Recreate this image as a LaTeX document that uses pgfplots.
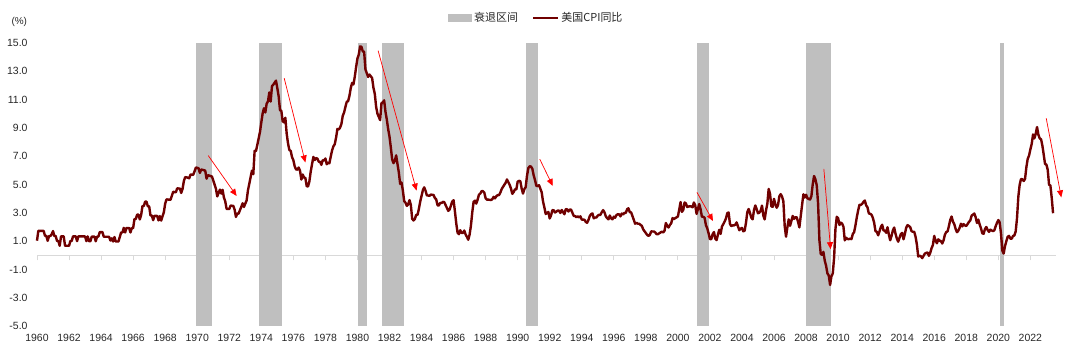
\documentclass[border=0pt]{standalone}
\usepackage{pgfplots}
\pgfplotsset{compat=1.18}
\usepackage{pgfplotstable}
\usepackage{fontspec}
\setmainfont{Liberation Sans}
\newfontfamily\cjk{Noto Sans CJK SC}
\usetikzlibrary{arrows.meta}
\definecolor{bandgray}{RGB}{191,191,191}
\definecolor{cpired}{RGB}{112,0,0}
\definecolor{zerogray}{RGB}{217,217,217}

% US CPI YoY, monthly from Jan 1960
\pgfplotstableread[row sep=\\, header=false]{
1.03\\1.73\\1.73\\1.72\\1.72\\1.72\\1.37\\1.37\\1.02\\1.36\\1.36\\1.48\\
1.71\\1.36\\1.36\\1.01\\1.01\\0.67\\1.34\\1.34\\1.34\\0.67\\0.67\\0.67\\
0.67\\1.01\\1.01\\1.34\\1.34\\1.34\\1.00\\1.34\\1.33\\1.33\\1.33\\1.33\\
1.33\\1.00\\1.33\\0.99\\0.99\\1.32\\1.32\\1.32\\0.99\\1.32\\1.32\\1.64\\
1.64\\1.64\\1.31\\1.31\\1.31\\1.31\\1.30\\1.04\\1.20\\0.97\\1.29\\0.97\\
0.97\\0.97\\1.29\\1.61\\1.61\\1.94\\1.61\\1.93\\1.93\\1.93\\1.61\\1.92\\
1.92\\2.56\\2.56\\2.87\\2.87\\2.53\\2.85\\3.48\\3.48\\3.79\\3.79\\3.46\\
3.46\\2.81\\2.81\\2.48\\2.79\\2.78\\2.78\\2.46\\2.77\\2.45\\2.75\\3.04\\
3.65\\3.95\\3.94\\3.93\\3.92\\4.20\\4.49\\4.46\\4.45\\4.73\\4.72\\4.72\\
4.40\\4.68\\5.25\\5.52\\5.51\\5.48\\5.44\\5.71\\5.70\\5.68\\5.93\\6.20\\
6.18\\6.15\\5.82\\6.06\\6.04\\6.01\\5.98\\5.41\\5.66\\5.63\\5.60\\5.57\\
5.29\\5.00\\4.71\\4.16\\4.40\\4.64\\4.36\\4.62\\4.08\\3.81\\3.28\\3.27\\
3.27\\3.51\\3.50\\3.49\\3.23\\2.71\\2.95\\2.94\\3.19\\3.42\\3.67\\3.41\\
3.65\\3.87\\4.59\\5.06\\5.53\\5.98\\5.73\\7.38\\7.36\\7.80\\8.25\\8.71\\
9.39\\10.02\\10.39\\10.09\\10.71\\10.88\\11.51\\10.86\\11.95\\12.06\\12.20\\12.34\\
11.80\\11.23\\10.25\\10.21\\9.47\\9.39\\9.72\\8.60\\7.91\\7.44\\7.38\\6.94\\
6.72\\6.29\\6.07\\6.05\\6.20\\5.97\\5.35\\5.71\\5.49\\5.46\\4.88\\4.86\\
5.22\\5.91\\6.44\\6.95\\6.73\\6.87\\6.83\\6.62\\6.60\\6.39\\6.72\\6.70\\
6.84\\6.43\\6.55\\6.50\\6.97\\7.41\\7.70\\7.84\\8.31\\8.93\\8.89\\9.02\\
9.28\\9.86\\10.09\\10.49\\10.85\\10.89\\11.26\\11.82\\12.18\\12.07\\12.61\\13.29\\
13.91\\14.18\\14.76\\14.73\\14.41\\14.38\\13.13\\12.87\\12.60\\12.77\\12.65\\12.52\\
11.83\\11.41\\10.49\\10.00\\9.78\\9.55\\10.76\\10.80\\10.95\\10.14\\9.59\\8.92\\
8.39\\7.62\\6.78\\6.51\\6.68\\7.06\\6.44\\5.85\\5.04\\5.14\\4.59\\3.83\\
3.71\\3.49\\3.60\\3.90\\3.55\\2.58\\2.46\\2.56\\2.86\\2.85\\3.27\\3.79\\
4.19\\4.60\\4.80\\4.56\\4.23\\4.22\\4.20\\4.29\\4.27\\4.26\\4.05\\3.95\\
3.53\\3.52\\3.70\\3.69\\3.77\\3.76\\3.55\\3.35\\3.14\\3.23\\3.51\\3.80\\
3.89\\3.11\\2.26\\1.59\\1.49\\1.77\\1.58\\1.57\\1.75\\1.47\\1.30\\1.10\\
1.46\\2.10\\3.03\\3.78\\3.86\\3.65\\3.93\\4.28\\4.36\\4.53\\4.53\\4.43\\
4.03\\3.93\\3.93\\3.92\\3.90\\3.96\\4.13\\4.02\\4.17\\4.25\\4.25\\4.42\\
4.67\\4.83\\4.98\\5.12\\5.36\\5.17\\4.98\\4.71\\4.34\\4.47\\4.66\\4.65\\
5.20\\5.26\\5.23\\4.71\\4.36\\4.67\\4.82\\5.62\\6.16\\6.29\\6.27\\6.11\\
5.65\\5.31\\4.90\\4.89\\4.95\\4.70\\4.45\\3.80\\3.39\\2.92\\2.99\\3.06\\
2.60\\2.82\\3.19\\3.18\\3.02\\3.09\\3.16\\3.15\\2.99\\3.20\\3.05\\2.90\\
3.26\\3.25\\3.09\\3.23\\3.22\\3.00\\2.78\\2.77\\2.69\\2.75\\2.68\\2.75\\
2.52\\2.52\\2.51\\2.36\\2.29\\2.49\\2.77\\2.90\\2.96\\2.61\\2.67\\2.67\\
2.80\\2.86\\2.85\\3.05\\3.19\\3.04\\2.76\\2.62\\2.54\\2.81\\2.61\\2.54\\
2.73\\2.65\\2.84\\2.90\\2.89\\2.75\\2.95\\2.88\\3.00\\2.99\\3.26\\3.32\\
3.04\\3.03\\2.76\\2.50\\2.23\\2.30\\2.23\\2.23\\2.15\\2.08\\1.83\\1.70\\
1.57\\1.44\\1.37\\1.44\\1.69\\1.68\\1.68\\1.62\\1.49\\1.49\\1.55\\1.61\\
1.67\\1.61\\1.73\\2.28\\2.09\\1.96\\2.14\\2.26\\2.63\\2.56\\2.62\\2.68\\
2.74\\3.22\\3.76\\3.07\\3.19\\3.73\\3.66\\3.41\\3.45\\3.45\\3.45\\3.39\\
3.73\\3.53\\2.92\\3.27\\3.62\\3.25\\2.72\\2.72\\2.65\\2.13\\1.90\\1.55\\
1.14\\1.14\\1.48\\1.64\\1.18\\1.07\\1.46\\1.80\\1.51\\2.03\\2.20\\2.38\\
2.60\\2.98\\3.02\\2.22\\2.06\\2.11\\2.11\\2.16\\2.32\\2.04\\1.77\\1.88\\
1.93\\1.69\\1.74\\2.29\\3.05\\3.27\\2.99\\2.65\\2.54\\3.19\\3.52\\3.26\\
2.97\\3.01\\3.15\\3.51\\2.80\\2.53\\3.17\\3.64\\4.69\\4.35\\3.46\\3.42\\
3.99\\3.60\\3.36\\3.55\\4.17\\4.32\\4.15\\3.82\\2.06\\1.31\\1.97\\2.54\\
2.08\\2.42\\2.78\\2.57\\2.69\\2.69\\2.36\\1.97\\2.76\\3.54\\4.31\\4.08\\
4.28\\4.03\\3.98\\3.94\\4.18\\5.02\\5.60\\5.37\\4.94\\3.66\\1.07\\0.09\\
0.03\\0.24\\-0.38\\-0.74\\-1.28\\-1.43\\-2.10\\-1.48\\-1.29\\-0.18\\1.84\\2.72\\
2.63\\2.14\\2.31\\2.24\\2.02\\1.05\\1.24\\1.15\\1.14\\1.17\\1.14\\1.50\\
1.63\\2.11\\2.68\\3.16\\3.57\\3.56\\3.63\\3.77\\3.87\\3.53\\3.39\\2.96\\
2.93\\2.87\\2.65\\2.30\\1.70\\1.66\\1.41\\1.69\\1.99\\2.16\\1.76\\1.74\\
1.59\\1.98\\1.47\\1.06\\1.36\\1.75\\1.96\\1.52\\1.18\\0.96\\1.24\\1.50\\
1.58\\1.13\\1.51\\1.95\\2.13\\2.07\\1.99\\1.70\\1.66\\1.66\\1.32\\0.76\\
-0.09\\-0.03\\-0.07\\-0.20\\-0.04\\0.12\\0.17\\0.20\\-0.04\\0.17\\0.50\\0.73\\
1.37\\1.02\\0.85\\1.13\\1.02\\1.01\\0.83\\1.06\\1.46\\1.64\\1.69\\2.07\\
2.50\\2.74\\2.38\\2.20\\1.87\\1.63\\1.73\\1.94\\2.23\\2.04\\2.20\\2.11\\
2.07\\2.21\\2.36\\2.46\\2.80\\2.87\\2.95\\2.70\\2.28\\2.52\\2.18\\1.91\\
1.55\\1.52\\1.86\\2.00\\1.79\\1.65\\1.81\\1.75\\1.71\\1.76\\2.05\\2.29\\
2.49\\2.33\\1.54\\0.33\\0.12\\0.65\\0.99\\1.31\\1.37\\1.18\\1.17\\1.36\\
1.40\\1.68\\2.62\\4.16\\4.99\\5.39\\5.37\\5.25\\5.39\\6.22\\6.81\\7.04\\
7.48\\7.87\\8.54\\8.26\\8.58\\9.06\\8.52\\8.26\\8.20\\7.75\\7.11\\6.45\\
6.41\\6.04\\4.98\\4.93\\4.05\\2.97\\
}\cpidata

\begin{document}
\begin{tikzpicture}
\pgfplotsset{common/.style={scale only axis, width=1019bp, height=283bp,
  xmin=1960, xmax=2023.6, ymin=-5, ymax=15, clip=false, scaled ticks=false}}
% zero line with ticks
\begin{axis}[common, axis x line=middle, axis y line=none,
  axis line style={-, draw=zerogray, line width=1.2bp},
  xtick={1960,1962,...,2022}, xticklabels={}, ytick=\empty,
  hide obscured x ticks=false,
  tick align=center, major tick length=5bp,
  xtick style={draw=zerogray, line width=1bp, yshift=-2.5bp}]
\end{axis}
\begin{axis}[common,
  axis line style={draw=none}, major tick length=0pt, tick style={draw=none},
  xtick={1960,1962,...,2022},
  xticklabels={1960,1962,1964,1966,1968,1970,1972,1974,1976,1978,1980,1982,1984,1986,1988,1990,1992,1994,1996,1998,2000,2002,2004,2006,2008,2010,2012,2014,2016,2018,2020,2022},
  ytick={-5,-3,...,15},
  yticklabels={-5.0,-3.0,-1.0,1.0,3.0,5.0,7.0,9.0,11.0,13.0,15.0},
  xticklabel style={yshift=-5bp},
  yticklabel style={xshift=-6bp},
  ticklabel style={font=\fontsize{10.5}{12}\selectfont, text=black!85},
  legend columns=2,
  legend style={at={(0.49,1)}, anchor=center, yshift=25bp, draw=none, fill=none,
    font=\fontsize{11}{13}\selectfont, text=black!85,
    /tikz/every even column/.append style={column sep=12bp}},
  legend cell align=left]
% recession bands
\addplot[fill=bandgray, draw=none,
  legend image code/.code={\fill[bandgray] (0bp,-4bp) rectangle (24bp,4bp);}]
  coordinates {(1969.92,-5)(1969.92,15)(1970.94,15)(1970.94,-5)};
\addlegendentry{{\cjk 衰退区间}}
\addplot[fill=bandgray, draw=none, forget plot] coordinates {(1973.85,-5)(1973.85,15)(1975.27,15)(1975.27,-5)};
\addplot[fill=bandgray, draw=none, forget plot] coordinates {(1980.03,-5)(1980.03,15)(1980.6,15)(1980.6,-5)};
\addplot[fill=bandgray, draw=none, forget plot] coordinates {(1981.54,-5)(1981.54,15)(1982.91,15)(1982.91,-5)};
\addplot[fill=bandgray, draw=none, forget plot] coordinates {(1990.5,-5)(1990.5,15)(1991.28,15)(1991.28,-5)};
\addplot[fill=bandgray, draw=none, forget plot] coordinates {(2001.17,-5)(2001.17,15)(2001.95,15)(2001.95,-5)};
\addplot[fill=bandgray, draw=none, forget plot] coordinates {(2007.97,-5)(2007.97,15)(2009.53,15)(2009.53,-5)};
\addplot[fill=bandgray, draw=none, forget plot] coordinates {(2020.12,-5)(2020.12,15)(2020.38,15)(2020.38,-5)};
% CPI
\addplot[cpired, line width=2.4bp, no markers, line join=round,
  legend image code/.code={\draw[cpired, line width=2.4bp] (0bp,0bp) -- (25bp,0bp);}]
  table[x expr=1960+\coordindex/12, y index=0] {\cpidata};
\addlegendentry{{\cjk 美国CPI同比}}
% arrows
\pgfplotsset{arr/.style={red, line width=0.7bp, forget plot, no markers, -{Triangle[length=7bp,width=6bp]}}}
\addplot[arr] coordinates {(1970.69,7.04)(1972.46,4.19)};
\addplot[arr] coordinates {(1975.43,12.51)(1976.75,6.56)};
\addplot[arr] coordinates {(1981.29,14.46)(1983.69,4.57)};
\addplot[arr] coordinates {(1991.38,6.79)(1992.19,4.9)};
\addplot[arr] coordinates {(2001.19,4.45)(2002.19,2.42)};
\addplot[arr] coordinates {(2009.11,6.10)(2009.53,0.43)};
\addplot[arr] coordinates {(2022.99,9.68)(2023.93,4.09)};
\node[anchor=west, font=\fontsize{10}{12}\selectfont, text=black!85, xshift=-29bp, yshift=21bp] at (rel axis cs:0,1) {(\%)};
\end{axis}
\path ([xshift=-37bp,yshift=-35bp]current axis.south west) rectangle ([xshift=24bp,yshift=43bp]current axis.north east);
\end{tikzpicture}
\end{document}
